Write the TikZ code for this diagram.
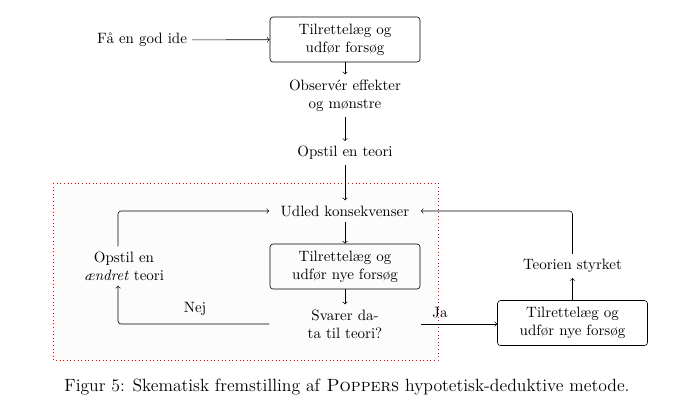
\documentclass[tikz,border=0pt]{standalone}
\usepackage{fontspec}
\begin{document}
\begin{tikzpicture}[x=0.6667pt,y=-0.6667pt,
  boxnode/.style={draw,rounded corners=2pt,text width=94pt,align=center,minimum height=30pt,inner sep=3pt},
  plainnode/.style={text width=94pt,align=center,inner sep=3.3pt},
  txtnode/.style={align=center},
  conn/.style={->,rounded corners=2pt},
  zone/.style={draw=red,dotted,fill=black!1}]
\useasboundingbox (0,0) rectangle (675,417);
\draw[zone] (53,183) rectangle (438,360);
\node[txtnode] (ide) at (142,40) {Få en god ide};
\node[boxnode] (forsog) at (345,39.5) {Tilrettelæg og udfør forsøg};
\node[plainnode] (obs) at (345,95.5) {Observér effekter\\og mønstre};
\node[plainnode] (teori) at (345,153) {Opstil en teori};
\node[plainnode] (udled) at (345,211) {Udled konsekvenser};
\node[boxnode] (nye) at (345,266.5) {Tilrettelæg og udfør nye forsøg};
\node[plainnode] (svar) at (345,324) {Svarer da-\\ta til teori?};
\node[txtnode] (aendret) at (124,266) {Opstil en\\\emph{ændret} teori};
\node[boxnode] (nye2) at (572.5,323) {Tilrettelæg og udfør nye forsøg};
\node[txtnode] (styrket) at (572.5,266) {Teorien styrket};
\node (nej) at (195,309) {Nej};
\node (ja) at (440,313) {Ja};
\node[font=\fontsize{11.8}{14}\selectfont] (caption) at (347,387) {Figur 5: Skematisk fremstilling af \textsc{Poppers} hypotetisk-deduktive metode.};
\draw[->] (ide) -- (forsog);
\draw[->] (forsog) -- (obs);
\draw[->] (obs) -- (teori);
\draw[->] (teori) -- (udled);
\draw[->] (udled) -- (nye);
\draw[->] (nye) -- (svar);
\draw[conn] (svar.west) -| ([xshift=-4pt]aendret.south);
\draw[conn] ([xshift=-4pt]aendret.north) |- (udled.west);
\draw[->] (svar.east) -- (svar.east -| nye2.west);
\draw[->] (nye2) -- (styrket);
\draw[conn] (styrket.north) |- (udled.east);
\end{tikzpicture}
\end{document}
